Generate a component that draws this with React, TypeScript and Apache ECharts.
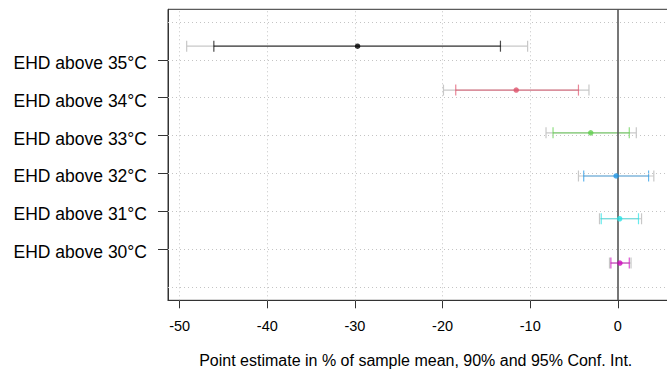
import React, { useEffect, useRef } from "react";
import * as echarts from "echarts";

const categories = [
  "EHD above 35°C",
  "EHD above 34°C",
  "EHD above 33°C",
  "EHD above 32°C",
  "EHD above 31°C",
  "EHD above 30°C",
];
const labelPositions = [6, 5, 4, 3, 2, 1];
const rowPositions = [6.36, 5.2, 4.07, 2.93, 1.8, 0.63];
const estimates = [-29.7, -11.6, -3.1, -0.2, 0.2, 0.23];
const lo90 = [-46.1, -18.5, -7.4, -3.9, -1.9, -0.8];
const hi90 = [-13.4, -4.5, 1.3, 3.5, 2.35, 1.3];
const lo95 = [-49.2, -19.9, -8.2, -4.5, -2.1, -0.96];
const hi95 = [-10.3, -3.3, 2.1, 4.1, 2.7, 1.5];
const colors = ["#000000", "#DF536B", "#61D04F", "#2297E6", "#28E2E5", "#CD0BBC"];
const xTicks = [-50, -40, -30, -20, -10, 0];
const xGrid = [-50, -40, -30, -20, -10];
const yGrid = [0, 1, 2, 3, 4, 5, 6, 7];
const xTitle = "Point estimate in % of sample mean, 90% and 95% Conf. Int.";

const FONT = "Liberation Sans, Arial, sans-serif";

function makeErrorBar(colorFor: (i: number) => string, opacity: number, width: number) {
  return (params: any, api: any) => {
    const y = api.value(0);
    const lo = api.value(1);
    const hi = api.value(2);
    const a = api.coord([lo, y]);
    const b = api.coord([hi, y]);
    const h = 5.5;
    const style = { stroke: colorFor(params.dataIndex), lineWidth: width, opacity };
    return {
      type: "group",
      children: [
        { type: "line", shape: { x1: a[0], y1: a[1], x2: b[0], y2: b[1] }, style },
        { type: "line", shape: { x1: a[0], y1: a[1] - h, x2: a[0], y2: a[1] + h }, style },
        { type: "line", shape: { x1: b[0], y1: b[1] - h, x2: b[0], y2: b[1] + h }, style },
      ],
    };
  };
}

export default function App() {
  const ref = useRef<HTMLDivElement>(null);
  useEffect(() => {
    if (!ref.current) return;
    const chart = echarts.init(ref.current, undefined, { renderer: "svg" });
    const data95 = rowPositions.map((y, i) => [y, lo95[i], hi95[i]]);
    const data90 = rowPositions.map((y, i) => [y, lo90[i], hi90[i]]);
    const pts = rowPositions.map((y, i) => ({ value: [estimates[i], y], itemStyle: { color: colors[i] } }));
    const gridLineStyle = { color: "#c4c4c4", width: 1, type: [1, 3] as any };
    chart.setOption({
      animation: false,
      textStyle: { fontFamily: FONT },
      grid: {
        left: 168,
        top: 9.3,
        width: 504.5,
        height: 291,
        show: true,
        borderColor: "#333",
        borderWidth: 1,
        backgroundColor: "transparent",
        containLabel: false,
        outerBoundsMode: "none",
      },
      xAxis: {
        type: "value",
        min: -51.33,
        max: 6.23,
        axisLine: { show: true, onZero: false, lineStyle: { color: "#333", width: 1 } },
        axisTick: { show: true, length: 8, customValues: xTicks, lineStyle: { color: "#333", width: 1 } },
        axisLabel: { customValues: xTicks, margin: 18, color: "#000", fontSize: 14.5, fontFamily: FONT },
        splitLine: { show: false },
        name: xTitle,
        nameLocation: "middle",
        nameGap: 52,
        nameTextStyle: { color: "#000", fontSize: 16, fontFamily: FONT, padding: [0, 9, 0, 0] },
      },
      yAxis: {
        type: "value",
        min: -0.355,
        max: 7.335,
        axisLine: { show: true, onZero: false, lineStyle: { color: "#333", width: 1 } },
        axisTick: { show: true, length: 10, customValues: labelPositions, lineStyle: { color: "#333", width: 1 } },
        axisLabel: {
          customValues: labelPositions,
          margin: 21,
          color: "#000",
          fontSize: 17.5,
          fontFamily: FONT,
          verticalAlign: "top",
          lineHeight: 6,
          formatter: (v: number) => {
            const idx = labelPositions.indexOf(Math.round(v));
            return idx >= 0 ? categories[idx] : "";
          },
        },
        splitLine: { show: false },
      },
      series: [
        {
          type: "line",
          data: [],
          silent: true,
          z: 1,
          markLine: {
            silent: true,
            symbol: "none",
            label: { show: false },
            lineStyle: gridLineStyle,
            data: [
              ...xGrid.map((x) => ({ xAxis: x })),
              ...yGrid.map((y) => ({ yAxis: y })),
            ],
          },
        },
        {
          type: "line",
          data: [],
          silent: true,
          z: 2,
          markLine: {
            silent: true,
            symbol: "none",
            label: { show: false },
            lineStyle: { color: "#555", width: 1.6, type: "solid" },
            data: [{ xAxis: 0 }],
          },
        },
        {
          type: "custom",
          z: 3,
          renderItem: makeErrorBar(() => "#c8c8c8", 1, 1.2),
          encode: { x: [1, 2], y: 0 },
          data: data95,
        },
        {
          type: "custom",
          z: 4,
          renderItem: makeErrorBar((i) => colors[i], 0.7, 1.2),
          encode: { x: [1, 2], y: 0 },
          data: data90,
        },
        {
          type: "scatter",
          z: 5,
          symbol: "circle",
          symbolSize: 5.5,
          data: pts,
        },
      ],
    });
    return () => chart.dispose();
  }, []);
  return <div ref={ref} style={{ position: "absolute", left: 0, top: 0, width: 667, height: 369 }} />;
}
